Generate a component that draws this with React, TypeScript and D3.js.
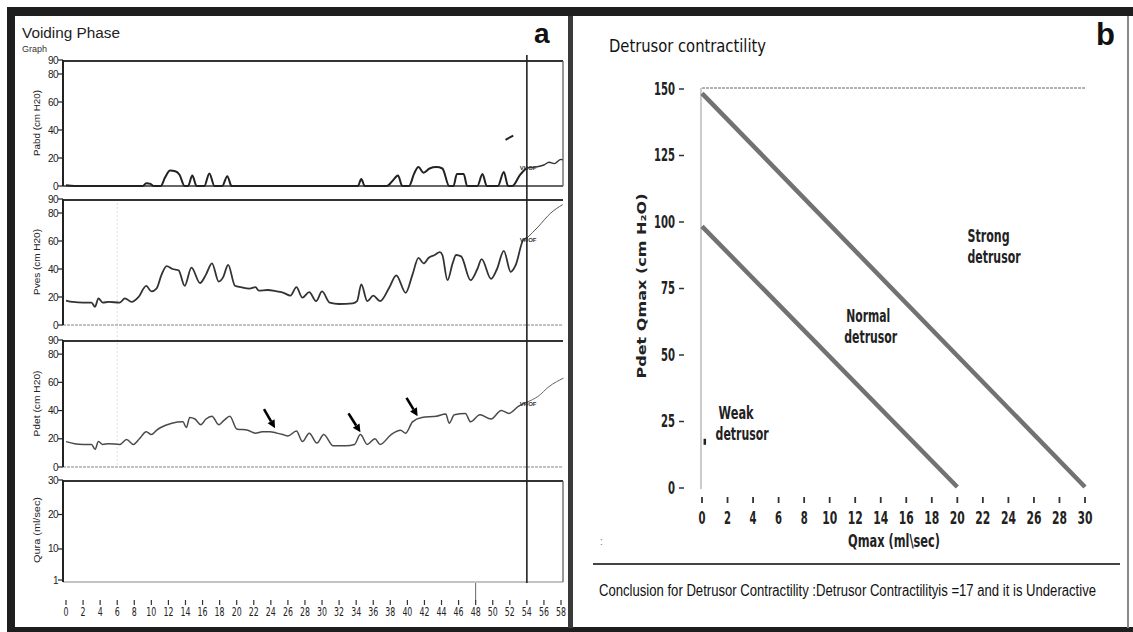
import React from "react";
import * as d3 from "d3";

// ---------- Panel a data (time in s, pressure in cm H2O) ----------
const TIME_TICKS = d3.range(0, 59, 2);
const P_TICKS = [0, 20, 40, 60, 80, 90];
const Q_TICKS = [1, 10, 20, 30];

const PABD: [number, number][] = [
  [0, 0.5], [1, 0], [9, 0], [9.4, 2], [9.9, 1.5], [10.3, 0], [11.1, 0], [11.6, 6], [12.2, 11], [12.8, 10.5],
  [13.3, 8], [13.9, 0], [14.3, 0], [14.8, 7.5], [15.3, 0], [16.2, 0], [16.8, 9], [17.4, 0], [18.3, 0],
  [18.9, 7], [19.4, 0], [34.2, 0], [34.6, 5], [35, 0], [37.6, 0], [38.3, 4], [38.9, 7.5], [39.4, 0],
  [40.2, 0], [40.8, 9], [41.3, 13.5], [41.9, 9.5], [42.6, 12.5], [43.4, 13.5], [44.1, 12.5], [44.9, 0],
  [45.4, 0], [45.8, 8.5], [46.6, 8.5], [47.0, 0], [48.2, 0], [48.8, 8.5], [49.3, 0], [50.6, 0],
  [51.3, 10], [51.8, 0], [52.3, 0], [53.2, 8], [54, 13],
];
const PABD_AFTER: [number, number][] = [[54, 13], [55, 13.5], [56, 15], [56.6, 17], [57.2, 16], [58, 19], [58.2, 18.5]];
const PABD_STROKE: [number, number][] = [[51.5, 33], [52.4, 36]];

const PVES: [number, number][] = [
  [0, 17.5], [0.8, 16.5], [2, 16], [3, 16], [3.4, 13], [3.8, 19], [4.3, 16], [5, 16.5], [6.3, 16], [6.9, 19],
  [7.7, 16.5], [8.5, 20], [9.4, 28], [10, 24], [10.6, 26], [11.2, 36], [11.8, 42], [12.5, 40], [13.2, 39],
  [13.9, 28], [14.7, 41], [15.7, 30], [16.4, 36], [17.1, 44], [17.9, 31], [18.4, 34], [19, 43], [19.8, 28],
  [20.5, 27], [21.5, 26], [22.2, 27], [22.6, 24.5], [23.6, 25], [24.7, 24], [25.5, 23], [26.3, 21], [27, 27],
  [27.7, 19.5], [28.5, 23.5], [29.3, 17], [30, 24], [30.9, 16], [32, 15], [33.6, 15.5], [34.1, 17], [34.6, 29],
  [35.3, 17], [36, 21], [36.8, 17], [37.9, 27], [38.7, 35.5], [39.8, 23], [40.6, 36], [41.3, 48], [41.9, 44],
  [42.5, 48], [43.2, 50], [43.8, 52], [44.1, 50], [44.7, 32], [45.3, 44], [45.7, 50], [46.3, 49], [47.4, 32],
  [48.2, 40], [48.7, 47], [49.8, 33], [50.5, 40], [51.3, 53], [52.1, 38], [52.7, 43], [53.6, 61], [54, 62],
];
const PVES_AFTER: [number, number][] = [[54, 62], [55.3, 70], [56.8, 80], [58.2, 86]];

const PDET: [number, number][] = [
  [0, 18], [1, 16.5], [2, 16], [3, 16], [3.4, 12.5], [3.8, 18], [4.3, 16], [5, 16.5], [6.3, 16], [7.1, 19.5],
  [7.9, 16], [8.6, 20], [9.4, 25], [10, 23], [10.6, 26], [11.1, 28], [12.4, 31], [13.7, 32], [14.1, 28],
  [14.5, 35], [15.1, 34], [15.8, 30], [16.4, 34], [17.1, 36], [17.9, 30], [18.5, 33], [19.2, 36], [20, 27],
  [21.3, 26], [22.2, 24], [23, 25], [23.9, 25], [24.7, 24], [25.4, 23], [26, 22], [27, 25.5], [27.7, 18],
  [28.5, 24], [29.4, 17], [30.2, 23], [31.3, 15], [32.8, 15], [33.8, 16], [34.5, 23], [35.3, 16], [36.2, 20],
  [36.8, 16], [38.1, 23], [39.2, 26], [39.8, 24], [40.6, 32], [41.7, 35], [43.4, 36], [44.5, 37.5], [44.9, 31],
  [45.5, 37], [46.8, 38], [47.4, 32], [48.5, 37], [49.8, 34], [51, 40], [51.9, 38], [53, 43], [54, 46],
];
const PDET_AFTER: [number, number][] = [[54, 46], [55.3, 50], [56.6, 57], [58.3, 63]];

const ARROWS = [
  { from: [23.2, 41], to: [24.5, 27.5] },
  { from: [33.1, 38], to: [34.5, 24.6] },
  { from: [39.9, 49], to: [41.2, 36] },
];
const VOID_TIME = 54;

// ---------- Panel b data ----------
const QMAX_TICKS = d3.range(0, 31, 2);
const PDETQ_TICKS = [0, 25, 50, 75, 100, 125, 150];
const STRONG_LINE: [number, number][] = [[0, 148], [30, 0]];
const NORMAL_LINE: [number, number][] = [[0, 98], [20, 0]];
const TOP_LINE: [number, number][] = [[0, 150], [30, 150]];
const PATIENT: [number, number] = [0.2, 17];
const ZONES = [
  { l1: "Strong", l2: "detrusor", q: 20.8, p: 92, w1: 42, w2: 53 },
  { l1: "Normal", l2: "detrusor", q: 11.3, p: 62, w1: 44, w2: 53 },
  { l1: "Weak", l2: "detrusor", q: 1.3, p: 25.5, w1: 35, w2: 53 },
];
const CONCLUSION = "Conclusion for Detrusor Contractility  :Detrusor Contractilityis =17 and it is  Underactive";

const DARK = "#1e1e1e";
const COND = "'DejaVu Sans Condensed','DejaVu Sans',sans-serif";
const ARIAL = "'Liberation Sans',Arial,sans-serif";

export default function App() {
  const xA = d3.scaleLinear().domain([0, 58]).range([66, 561]);
  const boxL = 63, boxR = 563;
  const panels = [
    { name: "Pabd (cm H20)", y: d3.scaleLinear().domain([0, 90]).range([186, 60]), ticks: P_TICKS, top: 90, bot: 0 },
    { name: "Pves (cm H20)", y: d3.scaleLinear().domain([0, 90]).range([325, 199]), ticks: P_TICKS, top: 90, bot: 0 },
    { name: "Pdet (cm H20)", y: d3.scaleLinear().domain([0, 90]).range([467, 340]), ticks: P_TICKS, top: 90, bot: 0 },
    { name: "Qura (ml/sec)", y: d3.scaleLinear().domain([1, 30]).range([580, 480]), ticks: Q_TICKS, top: 30, bot: 1 },
  ];
  const [pabd, pves, pdet, qura] = panels;

  const mk = (ys: d3.ScaleLinear<number, number>) =>
    d3.line<[number, number]>().x((d) => xA(d[0])).y((d) => ys(d[1])).curve(d3.curveMonotoneX);
  const straight = (ys: d3.ScaleLinear<number, number>) =>
    d3.line<[number, number]>().x((d) => xA(d[0])).y((d) => ys(d[1]));

  const xB = d3.scaleLinear().domain([0, 30]).range([702, 1085]);
  const yB = d3.scaleLinear().domain([0, 150]).range([487, 88]);
  const lineB = d3.line<[number, number]>().x((d) => xB(d[0])).y((d) => yB(d[1]));

  const arrowEls = ARROWS.map((a, i) => {
    const x1 = xA(a.from[0]), y1 = pdet.y(a.from[1]);
    const x2 = xA(a.to[0]), y2 = pdet.y(a.to[1]);
    const ang = Math.atan2(y2 - y1, x2 - x1);
    const hl = 8, hw = 4;
    const bx = x2 - hl * Math.cos(ang), by = y2 - hl * Math.sin(ang);
    const px = -Math.sin(ang) * hw, py = Math.cos(ang) * hw;
    return (
      <g key={i}>
        <line x1={x1} y1={y1} x2={bx} y2={by} stroke="#000" strokeWidth={2.6} />
        <polygon points={`${x2},${y2} ${bx + px},${by + py} ${bx - px},${by - py}`} fill="#000" />
      </g>
    );
  });

  return (
    <svg width={1133} height={632} style={{ position: "absolute", left: 0, top: 0, background: "#fff" }}>
      <rect x={0} y={0} width={1133} height={632} fill="#fff" />
      {/* frame */}
      <rect x={7} y={7} width={1126} height={9} fill={DARK} />
      <rect x={7} y={7} width={8} height={625} fill={DARK} />
      <rect x={7} y={627} width={1126} height={5} fill={DARK} />
      <rect x={1127} y={16} width={2} height={612} fill="#888" />
      <rect x={568} y={16} width={5} height={612} fill="#3a3a3a" />

      {/* ===== Panel a ===== */}
      <text x={22} y={38} fontFamily={ARIAL} fontSize={15.5} fill="#222" textLength={98} lengthAdjust="spacingAndGlyphs">Voiding Phase</text>
      <text x={22} y={52} fontFamily={ARIAL} fontSize={9} fill="#333">Graph</text>
      <text x={534} y={43} fontFamily={ARIAL} fontSize={28} fontWeight="bold" fill="#111">a</text>

      {/* faint vertical guide */}
      <line x1={xA(6)} x2={xA(6)} y1={pves.y(90)} y2={pdet.y(0)} stroke="#ddd" strokeWidth={1} strokeDasharray="2,2" />

      {panels.map((p, i) => (
        <g key={p.name}>
          <line x1={boxL} x2={boxR} y1={p.y(p.top) + 1} y2={p.y(p.top) + 1} stroke="#333" strokeWidth={1.8} />
          <line x1={boxL} x2={boxR} y1={p.y(p.bot) + (i === 3 ? 2 : 0)} y2={p.y(p.bot) + (i === 3 ? 2 : 0)}
            stroke={i === 0 ? "#333" : "#888"} strokeWidth={i === 0 ? 1.4 : 1.2} strokeDasharray={i === 1 || i === 2 ? "3,1" : undefined} />
          {(i === 0 || i === 3) && (
            <line x1={boxR} x2={boxR} y1={p.y(p.top) + 1} y2={p.y(p.bot) + (i === 3 ? 2 : 0)} stroke="#555" strokeWidth={1.2} />
          )}
          <line x1={boxL} x2={boxL} y1={p.y(p.top)} y2={p.y(p.bot) + (i === 3 ? 2 : 0)} stroke="#222" strokeWidth={2} />
          {p.ticks.map((t) => (
            <g key={t}>
              <line x1={boxL - 5} x2={boxL} y1={p.y(t)} y2={p.y(t)} stroke="#222" strokeWidth={1.2} />
              <text x={boxL - 5} y={p.y(t) + 3.5} textAnchor="end" fontFamily={ARIAL} fontSize={10} fill="#222" letterSpacing={-0.6}>{t}</text>
            </g>
          ))}
          <text transform={`translate(40,${(p.y(p.top) + p.y(p.bot)) / 2}) rotate(-90)`} textAnchor="middle"
            fontFamily={ARIAL} fontSize={9.5} fill="#222" textLength={66} lengthAdjust="spacingAndGlyphs">{p.name}</text>
        </g>
      ))}

      {/* signals */}
      <path d={mk(pabd.y)(PABD) || ""} fill="none" stroke="#222" strokeWidth={2} />
      <path d={mk(pabd.y)(PABD_AFTER) || ""} fill="none" stroke="#333" strokeWidth={1.4} />
      <path d={straight(pabd.y)(PABD_STROKE) || ""} fill="none" stroke="#222" strokeWidth={2} />
      <path d={mk(pves.y)(PVES) || ""} fill="none" stroke="#333" strokeWidth={1.8} />
      <path d={mk(pves.y)(PVES_AFTER) || ""} fill="none" stroke="#555" strokeWidth={1} />
      <path d={mk(pdet.y)(PDET) || ""} fill="none" stroke="#4a4a4a" strokeWidth={1.5} />
      <path d={mk(pdet.y)(PDET_AFTER) || ""} fill="none" stroke="#666" strokeWidth={1} />

      {/* voiding marker line */}
      <line x1={xA(VOID_TIME)} x2={xA(VOID_TIME)} y1={55} y2={qura.y(1) + 3} stroke="#222" strokeWidth={1.6} />
      {[[pabd, 13], [pves, 61], [pdet, 45]].map(([p, v]: any, i) => (
        <text key={i} x={xA(VOID_TIME) - 7} y={p.y(v) + 2} fontFamily={ARIAL} fontSize={6} fontWeight="bold" fill="#333">VHOF</text>
      ))}
      <line x1={xA(48)} x2={xA(48)} y1={qura.y(1) + 3} y2={601} stroke="#666" strokeWidth={1} />

      {arrowEls}

      {/* time axis */}
      {TIME_TICKS.map((t) => (
        <g key={t}>
          <line x1={xA(t)} x2={xA(t)} y1={600} y2={605} stroke="#333" strokeWidth={1.2} />
          <text x={xA(t)} y={616} textAnchor="middle" fontFamily={COND} fontSize={12.5} fill="#222"
            textLength={t < 10 ? 5 : 10} lengthAdjust="spacingAndGlyphs">{t}</text>
        </g>
      ))}

      {/* ===== Panel b ===== */}
      <text x={609} y={52} fontFamily={COND} fontSize={18.5} fill="#111" textLength={157} lengthAdjust="spacingAndGlyphs">Detrusor contractility</text>
      <text x={1096} y={45} fontFamily={ARIAL} fontSize={31} fontWeight="bold" fill="#111">b</text>

      <path d={lineB(TOP_LINE) || ""} stroke="#999" strokeWidth={1.5} strokeDasharray="3,1" fill="none" />
      <line x1={xB(0) - 1} x2={xB(0) - 1} y1={yB(150)} y2={yB(0) + 2} stroke="#aaa" strokeWidth={1.2} />
      <path d={lineB(STRONG_LINE) || ""} stroke="#727272" strokeWidth={4.5} fill="none" />
      <path d={lineB(NORMAL_LINE) || ""} stroke="#727272" strokeWidth={4.5} fill="none" />
      <rect x={xB(PATIENT[0]) - 1} y={yB(PATIENT[1]) - 3} width={2.5} height={6} fill="#222" />

      {PDETQ_TICKS.map((t) => (
        <g key={t}>
          <text x={675} y={yB(t) + 6.5} textAnchor="end" fontFamily={COND} fontSize={17.5} fontWeight="bold" fill="#222"
            textLength={t >= 100 ? 21 : t >= 10 ? 14 : 7} lengthAdjust="spacingAndGlyphs">{t}</text>
          <line x1={679} x2={684} y1={yB(t) + 1} y2={yB(t) + 1} stroke="#333" strokeWidth={1.5} />
        </g>
      ))}
      {QMAX_TICKS.map((t) => (
        <g key={t}>
          <line x1={xB(t)} x2={xB(t)} y1={497} y2={503} stroke="#333" strokeWidth={1.8} />
          <text x={xB(t)} y={524} textAnchor="middle" fontFamily={COND} fontSize={18} fontWeight="bold" fill="#222"
            textLength={t < 10 ? 7 : 15} lengthAdjust="spacingAndGlyphs">{t}</text>
        </g>
      ))}
      <text x={894} y={547} textAnchor="middle" fontFamily={COND} fontSize={17} fontWeight="bold" fill="#222"
        textLength={92} lengthAdjust="spacingAndGlyphs">Qmax (ml\sec)</text>
      <text transform="translate(646,286) rotate(-90)" textAnchor="middle" fontFamily="'DejaVu Sans',sans-serif"
        fontSize={13} fontWeight="bold" fill="#222" textLength={185} lengthAdjust="spacingAndGlyphs">Pdet Qmax  (cm H₂O)</text>

      {ZONES.map((z) => (
        <g key={z.l1}>
          <text x={xB(z.q)} y={yB(z.p)} fontFamily={COND} fontSize={17} fontWeight="bold" fill="#222"
            textLength={z.w1} lengthAdjust="spacingAndGlyphs">{z.l1}</text>
          <text x={xB(z.q) - (z.l1 === "Weak" ? 3 : z.l1 === "Normal" ? 2 : 0)} y={yB(z.p) + 21} fontFamily={COND} fontSize={17} fontWeight="bold" fill="#222"
            textLength={z.w2} lengthAdjust="spacingAndGlyphs">{z.l2}</text>
        </g>
      ))}

      <text x={600} y={545} fontFamily={ARIAL} fontSize={10} fill="#777">:</text>
      <line x1={593} x2={1120} y1={564} y2={564} stroke="#444" strokeWidth={2} />
      <text x={599} y={596} fontFamily={ARIAL} fontSize={16} fill="#111" textLength={497} lengthAdjust="spacingAndGlyphs">{CONCLUSION}</text>
    </svg>
  );
}
